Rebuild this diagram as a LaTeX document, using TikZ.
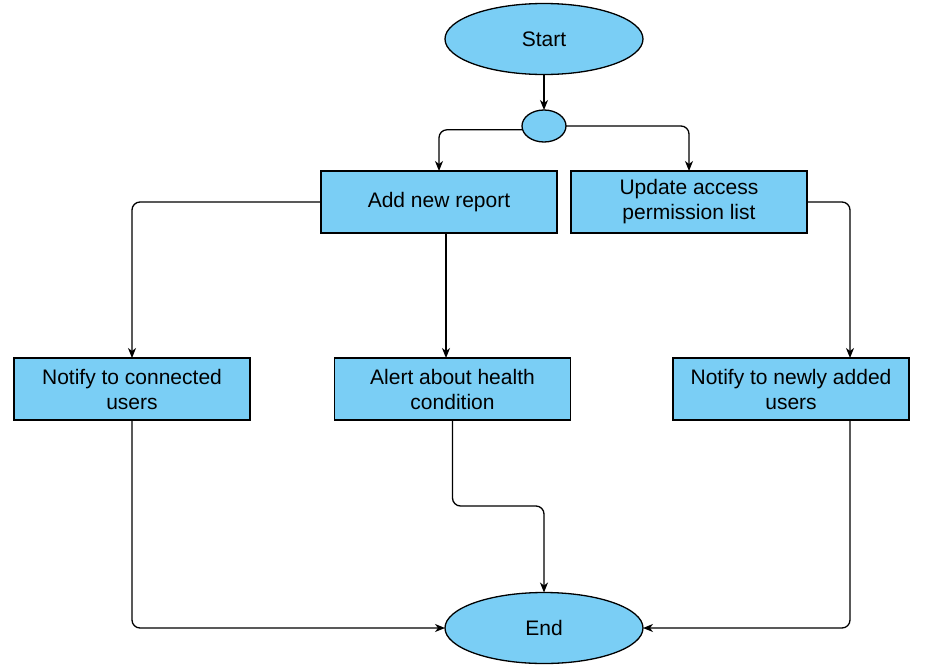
\documentclass[tikz,border=0pt]{standalone}
\usepackage{fontspec}
\setmainfont{Liberation Sans}
\usetikzlibrary{arrows.meta,shapes.geometric}
\definecolor{flowblue}{RGB}{122,206,245}
\tikzset{
  flownode/.style = {align=center, inner sep=0pt, outer sep=0pt, draw=black,
    fill=flowblue, line width=1.3pt, font=\fontsize{21}{25}\selectfont},
  term/.style = {flownode, ellipse, minimum width=198pt, minimum height=71pt},% start / end
  junc/.style = {flownode, ellipse, minimum width=44pt, minimum height=32pt},% small fork
  box/.style = {flownode, rectangle, minimum width=236pt, minimum height=62pt},% step box
  conn/.style = {->, line width=1.3pt, rounded corners=8pt}
}
\begin{document}
\begin{tikzpicture}[x=1pt,y=-1pt,>={Stealth[length=10pt,width=8pt,inset=3pt]}]
\useasboundingbox (0,0) rectangle (932,670);
\node [term] (start) at (544,39) {Start};
\node [junc] (fork) at (544,126) {};
\node [box] (add) at (439,202) {Add new report};
\node [box] (upd) at (689,202) {Update access\\permission list};
\node [box] (notconn) at (132,389) {Notify to connected\\users};
\node [box] (alert) at (452.5,389) {Alert about health\\condition};
\node [box] (notnew) at (791,389) {Notify to newly added\\users};
\node [term] (end) at (544,628) {End};
% connectors
\draw [conn] (start) -- (fork);
\draw [conn] (fork.190) -| (add.north);
\draw [conn] (fork.east) -| (upd.north);
\draw [conn] (add.west) -| (notconn.north);
\draw [conn] ([xshift=7]add.south) -- ([xshift=7]add.south |- alert.north);
\draw [conn] (upd.east) -| ([xshift=59]notnew.north);
\draw [conn] (notconn.south) |- (end.west);
\draw [conn] (alert.south) -- ++(0,86) -| (end.north);
\draw [conn] ([xshift=59]notnew.south) |- (end.east);
\end{tikzpicture}
\end{document}
